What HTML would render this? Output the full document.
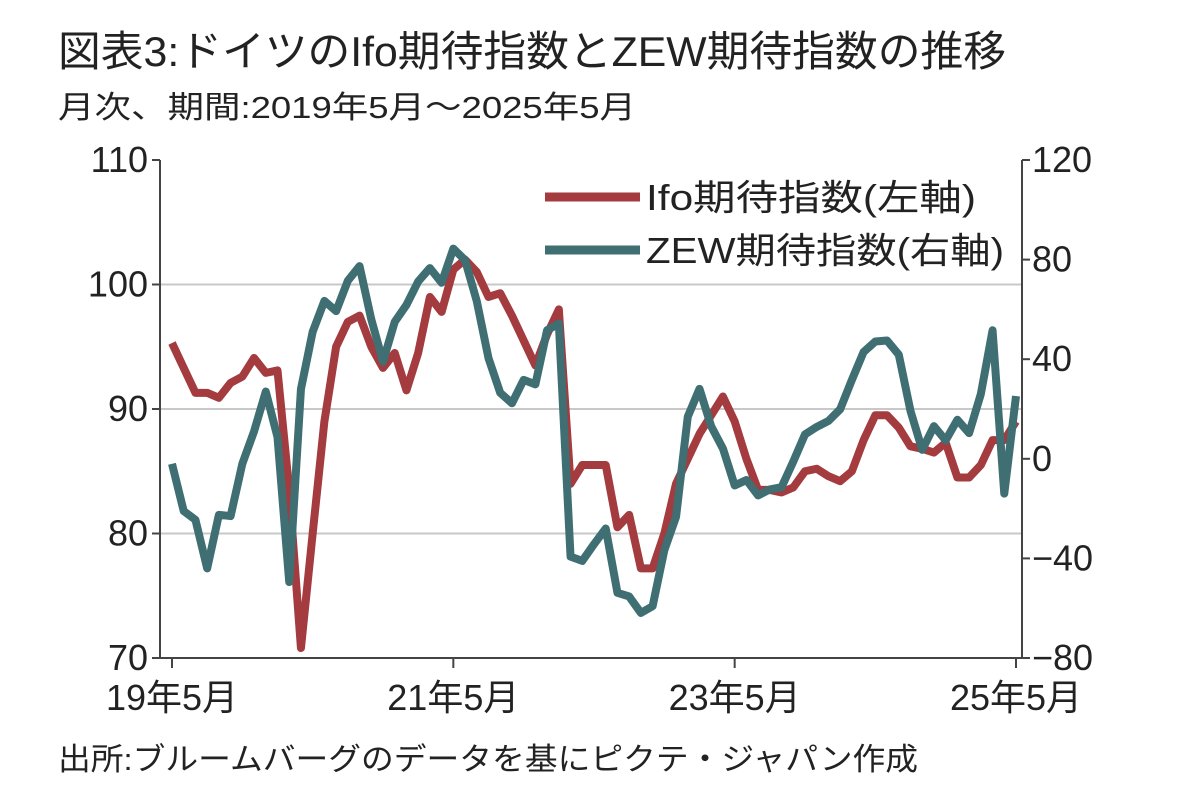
<!DOCTYPE html>
<html><head><meta charset="utf-8"><style>
body{margin:0;background:#fff;width:1182px;height:798px;overflow:hidden;font-family:"Liberation Sans","Noto Sans CJK JP",sans-serif;}
svg text{font-family:"Liberation Sans Narrow","Liberation Sans","Noto Sans CJK JP",sans-serif;fill:#222;}
</style></head><body>
<svg width="1182" height="798">
<text x="58" y="66" font-size="42" fill="#333" textLength="948" lengthAdjust="spacingAndGlyphs">図表3:ドイツのIfo期待指数とZEW期待指数の推移</text>
<text x="58" y="118" font-size="31" textLength="578" lengthAdjust="spacingAndGlyphs">月次、期間:2019年5月～2025年5月</text>
<text x="58" y="770" font-size="31" textLength="860" lengthAdjust="spacingAndGlyphs">出所:ブルームバーグのデータを基にピクテ・ジャパン作成</text>
<g id="grid"></g><g id="axes"></g><g id="series"></g>
<g>
<line x1="545" y1="197" x2="640" y2="197" stroke="#a33b3f" stroke-width="9"/>
<text x="646" y="210" font-size="36" textLength="330" lengthAdjust="spacingAndGlyphs">Ifo期待指数(左軸)</text>
<line x1="545" y1="250" x2="640" y2="250" stroke="#3f6f73" stroke-width="9"/>
<text x="646" y="263" font-size="36" textLength="358" lengthAdjust="spacingAndGlyphs">ZEW期待指数(右軸)</text>
</g>
</svg>
<script>
const ifo=[95.3,93.3,91.3,91.3,90.9,92.1,92.6,94.1,92.9,93.1,83.5,70.8,80,89,95,97,97.5,95,93.3,94.5,91.5,94.5,99,97.8,101.2,102,101,99,99.3,97.5,95.5,93.5,96,98,84,85.5,85.5,85.5,80.5,81.5,77.2,77.2,80,84,86,88,89.5,91,89,86,83.5,83.5,83.3,83.7,85,85.2,84.6,84.2,85,87.5,89.5,89.5,88.5,87,86.8,86.5,87.3,84.5,84.5,85.5,87.5,87.5,89];
const zew=[-2,-21,-24.5,-44,-22.5,-23,-2,11,27,8.7,-49.5,28,51,63.4,59.3,71.5,77.4,56,39,55,61.8,71.2,76.6,70.7,84.4,79.8,63.3,40.4,26.5,22.3,31.7,29.9,51.7,54.3,-39.3,-41,-34.3,-28,-53.8,-55.3,-61.9,-59.2,-36.7,-23.3,16.9,28.1,13,4.1,-10.7,-8.5,-14.7,-12.3,-11.4,-1.1,9.8,12.8,15.2,19.9,31.7,42.9,47.1,47.5,41.8,19.2,3.6,13.1,7.4,15.7,10.3,26,51.6,-14,25.2];
const leftTicks=[70,80,90,100,110];
const rightTicks=[-80,-40,0,40,80,120];
const xLabels=["19年5月","21年5月","23年5月","25年5月"];
const xLabelIdx=[0,24,48,72];
const NS="http://www.w3.org/2000/svg";
const X0=172,DX=(1016-172)/72,T=160,B=658,L=160,R=1022;
const x=i=>X0+i*DX, yL=v=>B-(v-70)*(B-T)/40, yR=v=>B-(v+80)*(B-T)/200;
function mk(p,t,a){const e=document.createElementNS(NS,t);for(const k in a)e.setAttribute(k,a[k]);p.appendChild(e);return e;}
const g=document.getElementById('grid'),ax=document.getElementById('axes'),s=document.getElementById('series');
leftTicks.forEach(v=>{
 if(v>70&&v<110){const l=mk(g,'line',{x1:L,x2:R,y1:yL(v),y2:yL(v),stroke:'#c8c8c8','stroke-width':2});
 
 }
 const tk=mk(ax,'line',{x1:L-8,x2:L,y1:yL(v),y2:yL(v),stroke:'#444','stroke-width':2});
 
 
 const t=mk(ax,'text',{x:L-12,y:yL(v)+12,'font-size':36,'text-anchor':'end'});t.textContent=v;
 
 
});
rightTicks.forEach(v=>{
 const tk=mk(ax,'line',{x1:R,x2:R+8,y1:yR(v),y2:yR(v),stroke:'#444','stroke-width':2});
 
 
 const t=mk(ax,'text',{x:R+10,y:yR(v)+12,'font-size':36});t.textContent=(v<0?'−'+(-v):v);
 
 
});
[[L,T,L,B],[R,T,R,B],[L,B,R,B]].forEach(c=>{const l=mk(ax,'line',{x1:c[0],y1:c[1],x2:c[2],y2:c[3],stroke:'#444','stroke-width':2});
 
 });
xLabelIdx.forEach((i,k)=>{
 const tk=mk(ax,'line',{x1:x(i),x2:x(i),y1:B,y2:B+10,stroke:'#444','stroke-width':2});
 
 
 const t=mk(ax,'text',{x:x(i),y:B+52,'font-size':36,'text-anchor':'middle'});t.textContent=xLabels[k];
 
 
});
const p1=mk(s,'polyline',{points:ifo.map((v,i)=>x(i)+','+yL(v)).join(' '),fill:'none',stroke:'#a33b3f','stroke-width':8,'stroke-linejoin':'round'});


const p2=mk(s,'polyline',{points:zew.map((v,i)=>x(i)+','+yR(v)).join(' '),fill:'none',stroke:'#3f6f73','stroke-width':8,'stroke-linejoin':'round'});


</script>
</body></html>
